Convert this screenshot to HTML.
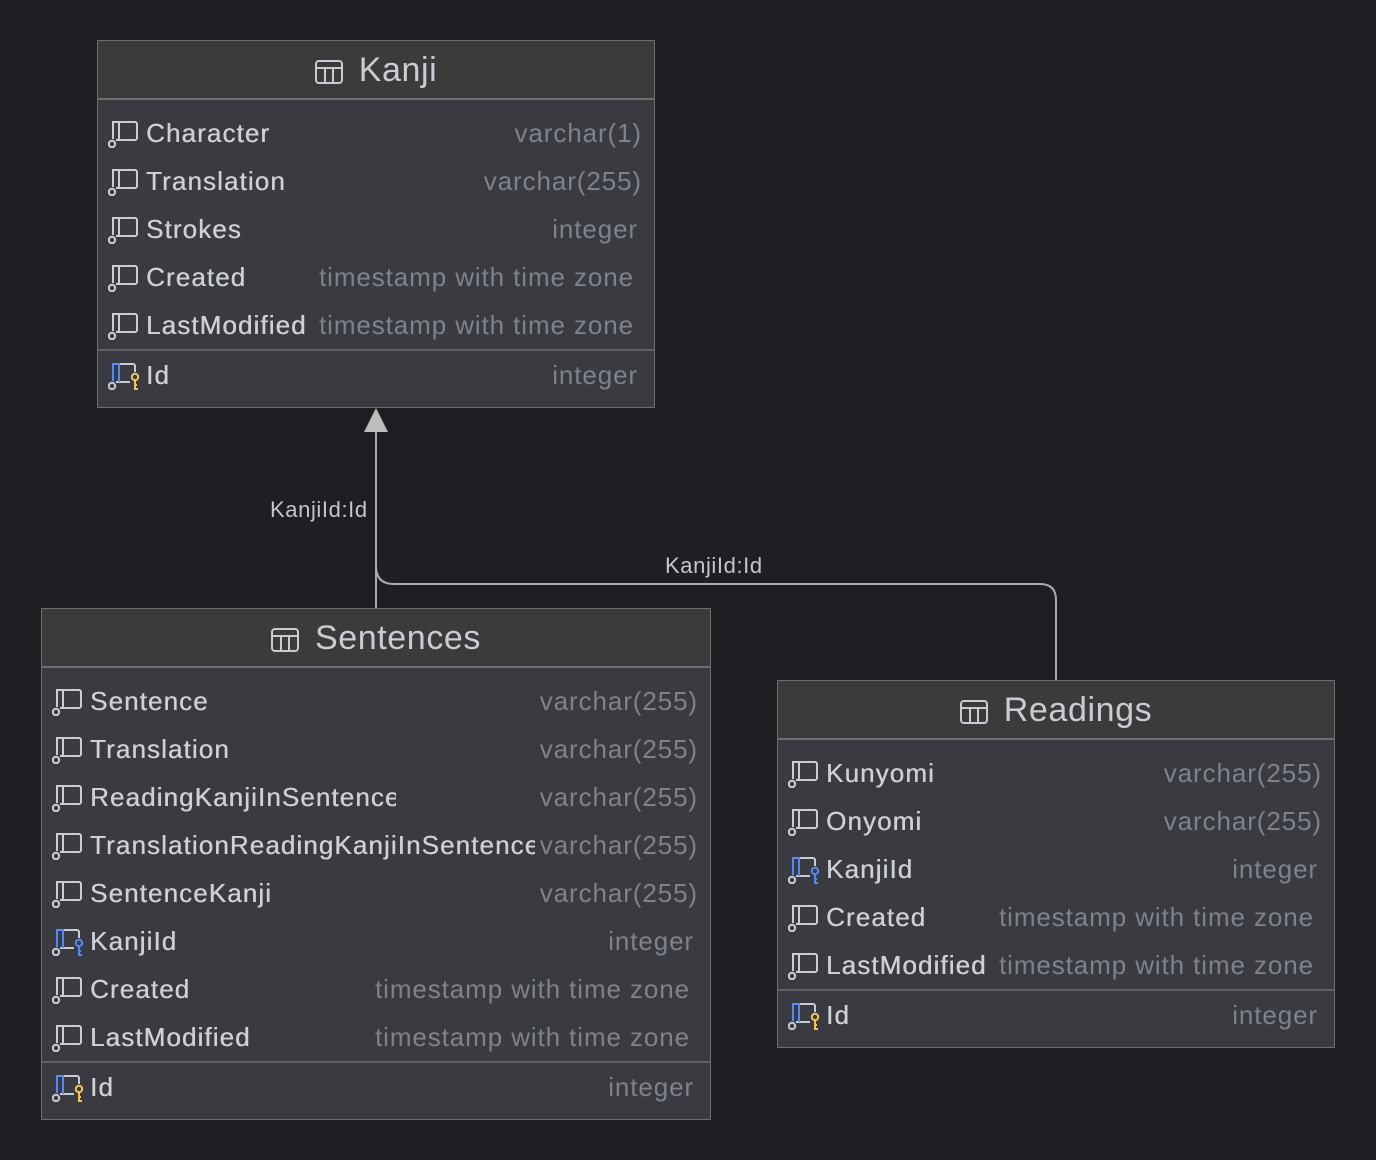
<!DOCTYPE html>
<html><head><meta charset="utf-8"><style>
body{margin:0;width:1376px;height:1160px;background:#1e1f22;position:relative;overflow:hidden;font-family:"Liberation Sans",sans-serif}
.t{position:absolute;background:#393b40;border:1px solid #6b6d70;box-sizing:border-box}
.h{position:absolute;left:0;right:0;top:0;background:#3b3b3b;border-bottom:2px solid #6b6d70;color:#c9ccd2;font-size:34px;text-align:center;letter-spacing:0.6px}
.h svg{vertical-align:-3px;margin-right:16px}
.sep{position:absolute;left:0;right:0;height:2px;background:#5e6064}
.r{position:absolute;left:0;right:0;height:48px}
.ic{position:absolute;left:10px;top:11px}
.n{position:absolute;left:48px;top:9px;font-size:26px;color:#cdd0d6;white-space:nowrap;overflow:hidden;letter-spacing:1.1px;text-shadow:0.4px 0 0 #cdd0d6}
.ty{position:absolute;top:9px;font-size:26px;color:#7e828a;white-space:nowrap;letter-spacing:0.9px}
.lbl{position:absolute;font-size:22px;color:#c4c6ca;letter-spacing:0.6px}
</style></head><body>
<svg width="0" height="0" style="position:absolute">
<defs>
<symbol id="col" viewBox="0 0 32 28"><path d="M5 19V2h22a2 2 0 0 1 2 2v14a2 2 0 0 1-2 2H8M11 2v18" fill="none" stroke="#c9ccd2" stroke-width="2"/><circle cx="4" cy="24" r="3.2" fill="none" stroke="#c9ccd2" stroke-width="2"/></symbol>
<symbol id="fk" viewBox="0 0 32 28"><path d="M11 2h14a2 2 0 0 1 2 2v6M22 20H8" fill="none" stroke="#c9ccd2" stroke-width="2"/><path d="M5 19V2h6v18" fill="none" stroke="#548af7" stroke-width="2"/><circle cx="4" cy="24" r="3.2" fill="none" stroke="#c9ccd2" stroke-width="2"/><circle cx="27" cy="15" r="3.2" fill="none" stroke="#548af7" stroke-width="2"/><path d="M27 18v9h3M27 23h2" fill="none" stroke="#548af7" stroke-width="2"/></symbol>
<symbol id="pk" viewBox="0 0 32 28"><path d="M11 2h14a2 2 0 0 1 2 2v6M22 20H8" fill="none" stroke="#c9ccd2" stroke-width="2"/><path d="M5 19V2h6v18" fill="none" stroke="#548af7" stroke-width="2"/><circle cx="4" cy="24" r="3.2" fill="none" stroke="#c9ccd2" stroke-width="2"/><circle cx="27" cy="15" r="3.2" fill="none" stroke="#f2c55c" stroke-width="2"/><path d="M27 18v9h3M27 23h2" fill="none" stroke="#f2c55c" stroke-width="2"/></symbol>
<symbol id="tb" viewBox="0 0 28 24"><rect x="1" y="1" width="26" height="22" rx="3" fill="none" stroke="#c9ccd2" stroke-width="2"/><path d="M1 8h26M10 8v15M18 8v15" stroke="#c9ccd2" stroke-width="2"/></symbol>
</defs></svg>

<svg width="1376" height="1160" style="position:absolute;left:0;top:0">
<path d="M376 608V430" stroke="#a9abae" stroke-width="2" fill="none"/>
<polygon points="376,408 364,432 388,432" fill="#bdbdbd"/>
<path d="M376 566q0 18 18 18h646q16 0 16 16v80" stroke="#a9abae" stroke-width="2" fill="none"/>
</svg>
<div class="lbl" style="left:270px;top:497px">KanjiId:Id</div>
<div class="lbl" style="left:665px;top:553px">KanjiId:Id</div>

<div class="t" style="left:97px;top:40px;width:558px;height:368px">
<div class="h" style="height:57px;line-height:58px"><svg width="28" height="24"><use href="#tb"/></svg>Kanji</div>
<div class="r" style="top:68px"><svg class="ic" width="32" height="28"><use href="#col"/></svg><span class="n" style="width:127px">Character</span><span class="ty" style="right:12px">varchar(1)</span></div>
<div class="r" style="top:116px"><svg class="ic" width="32" height="28"><use href="#col"/></svg><span class="n" style="width:144px">Translation</span><span class="ty" style="right:12px">varchar(255)</span></div>
<div class="r" style="top:164px"><svg class="ic" width="32" height="28"><use href="#col"/></svg><span class="n">Strokes</span><span class="ty" style="right:16px">integer</span></div>
<div class="r" style="top:212px"><svg class="ic" width="32" height="28"><use href="#col"/></svg><span class="n">Created</span><span class="ty" style="right:20px">timestamp with time zone</span></div>
<div class="r" style="top:260px"><svg class="ic" width="32" height="28"><use href="#col"/></svg><span class="n" style="width:169px">LastModified</span><span class="ty" style="right:20px">timestamp with time zone</span></div>
<div class="sep" style="top:308px"></div>
<div class="r" style="top:310px"><svg class="ic" width="32" height="28"><use href="#pk"/></svg><span class="n">Id</span><span class="ty" style="right:16px">integer</span></div>
</div>

<div class="t" style="left:41px;top:608px;width:670px;height:512px">
<div class="h" style="height:57px;line-height:58px"><svg width="28" height="24"><use href="#tb"/></svg>Sentences</div>
<div class="r" style="top:68px"><svg class="ic" width="32" height="28"><use href="#col"/></svg><span class="n">Sentence</span><span class="ty" style="right:12px">varchar(255)</span></div>
<div class="r" style="top:116px"><svg class="ic" width="32" height="28"><use href="#col"/></svg><span class="n" style="width:143px">Translation</span><span class="ty" style="right:12px">varchar(255)</span></div>
<div class="r" style="top:164px"><svg class="ic" width="32" height="28"><use href="#col"/></svg><span class="n" style="width:306px">ReadingKanjiInSentence</span><span class="ty" style="right:12px">varchar(255)</span></div>
<div class="r" style="top:212px"><svg class="ic" width="32" height="28"><use href="#col"/></svg><span class="n" style="width:445px">TranslationReadingKanjiInSentence</span><span class="ty" style="right:12px">varchar(255)</span></div>
<div class="r" style="top:260px"><svg class="ic" width="32" height="28"><use href="#col"/></svg><span class="n" style="width:185px">SentenceKanji</span><span class="ty" style="right:12px">varchar(255)</span></div>
<div class="r" style="top:308px"><svg class="ic" width="32" height="28"><use href="#fk"/></svg><span class="n">KanjiId</span><span class="ty" style="right:16px">integer</span></div>
<div class="r" style="top:356px"><svg class="ic" width="32" height="28"><use href="#col"/></svg><span class="n">Created</span><span class="ty" style="right:20px">timestamp with time zone</span></div>
<div class="r" style="top:404px"><svg class="ic" width="32" height="28"><use href="#col"/></svg><span class="n" style="width:168px">LastModified</span><span class="ty" style="right:20px">timestamp with time zone</span></div>
<div class="sep" style="top:452px"></div>
<div class="r" style="top:454px"><svg class="ic" width="32" height="28"><use href="#pk"/></svg><span class="n">Id</span><span class="ty" style="right:16px">integer</span></div>
</div>

<div class="t" style="left:777px;top:680px;width:558px;height:368px">
<div class="h" style="height:57px;line-height:58px"><svg width="28" height="24"><use href="#tb"/></svg>Readings</div>
<div class="r" style="top:68px"><svg class="ic" width="32" height="28"><use href="#col"/></svg><span class="n">Kunyomi</span><span class="ty" style="right:12px">varchar(255)</span></div>
<div class="r" style="top:116px"><svg class="ic" width="32" height="28"><use href="#col"/></svg><span class="n">Onyomi</span><span class="ty" style="right:12px">varchar(255)</span></div>
<div class="r" style="top:164px"><svg class="ic" width="32" height="28"><use href="#fk"/></svg><span class="n">KanjiId</span><span class="ty" style="right:16px">integer</span></div>
<div class="r" style="top:212px"><svg class="ic" width="32" height="28"><use href="#col"/></svg><span class="n">Created</span><span class="ty" style="right:20px">timestamp with time zone</span></div>
<div class="r" style="top:260px"><svg class="ic" width="32" height="28"><use href="#col"/></svg><span class="n" style="width:170px">LastModified</span><span class="ty" style="right:20px">timestamp with time zone</span></div>
<div class="sep" style="top:308px"></div>
<div class="r" style="top:310px"><svg class="ic" width="32" height="28"><use href="#pk"/></svg><span class="n">Id</span><span class="ty" style="right:16px">integer</span></div>
</div>
</body></html>
